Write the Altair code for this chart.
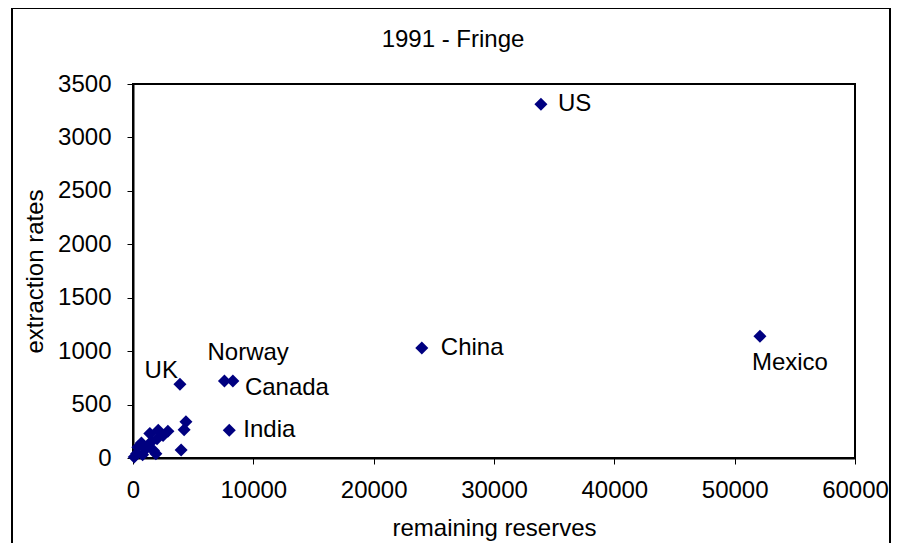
import altair as alt
import pandas as pd

# data
reserves = [33900, 24000, 52100, 7600, 8300, 3900, 8000,
            4400, 4250, 4000, 2900, 2100, 1400, 2500, 700, 400,
            1100, 1700, 1900, 100, 800, 300, 1500, 2000]
extraction = [3310, 1030, 1140, 720, 720, 690, 260,
              340, 265, 75, 250, 260, 230, 210, 140, 100,
              90, 70, 40, 10, 30, 40, 150, 180]
names = ["US", "China", "Mexico", "Norway", "Canada", "UK", "India"] + [""] * 17
title_text = ["1991 - Fringe"]

df = pd.DataFrame({"reserves": reserves, "extraction": extraction, "name": names})

FONT = "Liberation Sans"
NAVY = "#000080"

x_enc = alt.X("reserves:Q", title="remaining reserves",
              scale=alt.Scale(domain=[0, 60000], nice=False),
              axis=alt.Axis(values=[0, 10000, 20000, 30000, 40000, 50000, 60000],
                            format="d", grid=False, labelFlush=False))
y_enc = alt.Y("extraction:Q", title="extraction rates",
              scale=alt.Scale(domain=[0, 3500], nice=False),
              axis=alt.Axis(values=[0, 500, 1000, 1500, 2000, 2500, 3000, 3500],
                            format="d", grid=False))

points = alt.Chart(df).mark_point(shape="diamond", filled=True, size=170,
                                  color=NAVY, opacity=1).encode(x=x_enc, y=y_enc)

label_style = {
    "US": dict(align="left", dx=17, dy=0),
    "China": dict(align="left", dx=19, dy=0),
    "Canada": dict(align="left", dx=12, dy=7),
    "India": dict(align="left", dx=14, dy=0),
    "Mexico": dict(align="left", dx=-8, dy=27),
    "Norway": dict(align="left", dx=-17, dy=-28),
    "UK": dict(align="right", dx=-2, dy=-13),
}

layers = [points]
for nm, st in label_style.items():
    layers.append(
        alt.Chart(df).transform_filter(alt.datum.name == nm)
        .mark_text(font=FONT, fontSize=24, color="black", baseline="middle", **st)
        .encode(x="reserves:Q", y="extraction:Q", text="name:N")
    )

title_layer = alt.Chart(pd.DataFrame({"t": title_text})).mark_text(
    font=FONT, fontSize=24, color="black", align="center", baseline="middle"
).encode(text="t:N", x=alt.value(320), y=alt.value(-44))
layers.append(title_layer)

border = alt.Chart(pd.DataFrame({"a": [0]})).mark_rect(
    filled=False, stroke="black", strokeWidth=2
).encode(x=alt.value(-121), x2=alt.value(757), y=alt.value(-76), y2=alt.value(470))
layers.append(border)

chart = alt.layer(*layers).properties(
    width=722, height=374,
    autosize=alt.AutoSizeParams(type="none"),
    padding={"left": 125, "top": 76, "right": 36, "bottom": 85},
).configure_view(stroke="black", strokeWidth=2).configure_axis(
    labelFont=FONT, labelFontSize=24, labelColor="black",
    titleFont=FONT, titleFontSize=24, titleColor="black", titleFontWeight="normal",
    domainColor="black", domainWidth=2, tickColor="black", tickSize=6, tickWidth=1,
).configure_axisX(labelPadding=14, titlePadding=14).configure_axisY(labelPadding=16, titlePadding=10)

chart.save("out.html", embed_options={"renderer": "svg", "actions": False})
